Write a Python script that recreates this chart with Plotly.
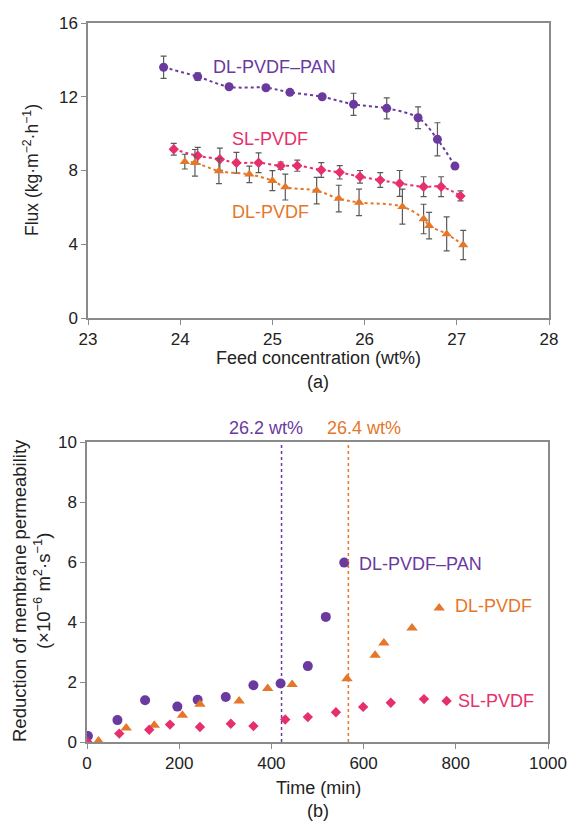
import plotly.graph_objects as go

# ---------------- Data: panel (a) ----------------
pan_conc = [23.82, 24.19, 24.53, 24.93, 25.19, 25.54, 25.88, 26.24, 26.58, 26.79, 26.98]
pan_flux = [13.60, 13.09, 12.54, 12.49, 12.24, 12.00, 11.59, 11.37, 10.86, 9.69, 8.24]
pan_err = [0.60, 0.20, 0.05, 0.10, 0.10, 0.10, 0.60, 0.57, 0.59, 0.90, 0.10]

sl_conc = [23.93, 24.19, 24.43, 24.61, 24.85, 25.09, 25.27, 25.53, 25.73, 25.95, 26.17, 26.38, 26.64, 26.83, 27.04]
sl_flux = [9.15, 8.80, 8.61, 8.42, 8.42, 8.26, 8.26, 8.03, 7.90, 7.66, 7.48, 7.30, 7.12, 7.12, 6.62]
sl_err = [0.32, 0.45, 0.60, 0.56, 0.54, 0.20, 0.30, 0.40, 0.36, 0.34, 0.40, 0.70, 0.54, 0.54, 0.27]

dl_conc = [24.05, 24.16, 24.42, 24.75, 25.00, 25.14, 25.48, 25.72, 25.94, 26.41, 26.64, 26.70, 26.89, 27.07]
dl_flux = [8.48, 8.42, 7.97, 7.79, 7.45, 7.10, 6.91, 6.48, 6.27, 6.04, 5.37, 5.01, 4.56, 3.96]
dl_err = [0.40, 0.72, 0.68, 0.45, 0.54, 0.70, 0.72, 0.72, 0.72, 0.95, 0.80, 0.72, 0.92, 0.79]

# ---------------- Data: panel (b) ----------------
pan_time = [2, 66, 126, 196, 240, 301, 361, 420, 479, 518, 558]
pan_red = [0.20, 0.73, 1.39, 1.18, 1.41, 1.50, 1.89, 1.95, 2.53, 4.17, 5.98]

dl_time = [25, 85, 146, 207, 245, 330, 392, 445, 564, 625, 644, 705, 764]
dl_red = [0.03, 0.47, 0.56, 0.89, 1.26, 1.37, 1.78, 1.92, 2.11, 2.89, 3.30, 3.80, 4.47]

sl_time = [1, 70, 135, 180, 245, 312, 361, 430, 479, 540, 599, 659, 731, 780]
sl_red = [0.0, 0.28, 0.41, 0.58, 0.50, 0.61, 0.53, 0.75, 0.83, 0.99, 1.17, 1.31, 1.43, 1.37]

threshold_times = [422, 567]
threshold_labels = ["26.2 wt%", "26.4 wt%"]

x_ticks_a = [23, 24, 25, 26, 27, 28]
y_ticks_a = [0, 4, 8, 12, 16]
x_ticks_b = [0, 200, 400, 600, 800, 1000]
y_ticks_b = [0, 2, 4, 6, 8, 10]

# ---------------- Styles ----------------
PURPLE = "#6a3a9e"
PINK = "#e6306c"
ORANGE = "#e4772a"
AXIS = "#8a8a8a"
TXT = "#222222"
FONT = "Liberation Sans, Arial, sans-serif"
W, H = 573, 823

def px_x(p):
    return p / W

def px_y(p):
    return 1 - p / H

fig = go.Figure()

errstyle = dict(type="data", visible=True, color="#5a5a5a", thickness=1.2, width=3)

fig.add_trace(go.Scatter(x=pan_conc, y=pan_flux, mode="lines+markers",
                         error_y=dict(array=pan_err, **errstyle),
                         line=dict(color=PURPLE, dash="dot", width=2, shape="spline"),
                         marker=dict(symbol="circle", size=9, color=PURPLE),
                         xaxis="x", yaxis="y", showlegend=False))
fig.add_trace(go.Scatter(x=sl_conc, y=sl_flux, mode="lines+markers",
                         error_y=dict(array=sl_err, **errstyle),
                         line=dict(color=PINK, dash="dot", width=2, shape="spline"),
                         marker=dict(symbol="diamond", size=8, color=PINK),
                         xaxis="x", yaxis="y", showlegend=False))
fig.add_trace(go.Scatter(x=dl_conc, y=dl_flux, mode="lines+markers",
                         error_y=dict(array=dl_err, **errstyle),
                         line=dict(color=ORANGE, dash="dot", width=2, shape="spline"),
                         marker=dict(symbol="triangle-up", size=9, color=ORANGE),
                         xaxis="x", yaxis="y", showlegend=False))

fig.add_trace(go.Scatter(x=pan_time, y=pan_red, mode="markers",
                         marker=dict(symbol="circle", size=10, color=PURPLE),
                         xaxis="x2", yaxis="y2", showlegend=False))
fig.add_trace(go.Scatter(x=dl_time, y=dl_red, mode="markers",
                         marker=dict(symbol="triangle-up", size=10, color=ORANGE),
                         xaxis="x2", yaxis="y2", showlegend=False))
fig.add_trace(go.Scatter(x=sl_time, y=sl_red, mode="markers",
                         marker=dict(symbol="diamond", size=8, color=PINK),
                         xaxis="x2", yaxis="y2", showlegend=False))

axis_common = dict(showline=True, linecolor=AXIS, linewidth=1.5, mirror=True,
                   ticks="outside", ticklen=5, tickcolor=AXIS, tickwidth=1.2,
                   showgrid=False, zeroline=False, automargin=False,
                   tickfont=dict(family=FONT, size=17, color=TXT))

fig.update_layout(
    width=W, height=H,
    margin=dict(l=0, r=0, t=0, b=0, pad=0, autoexpand=False),
    paper_bgcolor="white", plot_bgcolor="white",
    font=dict(family=FONT, color=TXT),
    xaxis=dict(domain=[px_x(88), px_x(549)], anchor="y", range=[23, 28],
               tickvals=x_ticks_a, **axis_common),
    yaxis=dict(domain=[px_y(318), px_y(23)], anchor="x", range=[0, 16],
               tickvals=y_ticks_a, **axis_common),
    xaxis2=dict(domain=[px_x(87), px_x(548)], anchor="y2", range=[0, 1000],
                tickvals=x_ticks_b, **axis_common),
    yaxis2=dict(domain=[px_y(742), px_y(442)], anchor="x2", range=[0, 10],
                tickvals=y_ticks_b, **axis_common),
)

for t, lab, col in zip(threshold_times, threshold_labels, [PURPLE, ORANGE]):
    fig.add_shape(type="line", xref="x2", yref="y2", x0=t, x1=t, y0=0, y1=10,
                  line=dict(color=col, width=1.5, dash="dot"))

def ann(text, x, y, xref="paper", yref="paper", color=TXT, size=17,
        xanchor="center", yanchor="middle", **kw):
    fig.add_annotation(text=text, x=x, y=y, xref=xref, yref=yref, showarrow=False,
                       xanchor=xanchor, yanchor=yanchor,
                       font=dict(family=FONT, size=size, color=color), **kw)

# threshold labels
ann(threshold_labels[0], threshold_times[0] - 34, px_y(428), xref="x2",
    color=PURPLE, size=18)
ann(threshold_labels[1], threshold_times[1] + 34, px_y(428), xref="x2",
    color=ORANGE, size=18)

# series labels panel (a)
ann("DL-PVDF\u2013PAN", 274 / W, px_y(67), color=PURPLE, size=18)
ann("SL-PVDF", 270 / W, px_y(139), color=PINK, size=18)
ann("DL-PVDF", 270 / W, px_y(212), color=ORANGE, size=18)

# series labels panel (b)
ann("DL-PVDF\u2013PAN", 357 / W, px_y(564), color=PURPLE, size=18, xanchor="left")
ann("DL-PVDF", 453 / W, px_y(606), color=ORANGE, size=18, xanchor="left")
ann("SL-PVDF", 456 / W, px_y(701), color=PINK, size=18, xanchor="left")

# axis titles
ann("Feed concentration (wt%)", 318 / W, px_y(358), size=18)
ann("(a)", 318 / W, px_y(382), size=18)
ann("Time (min)", 318 / W, px_y(788), size=18)
ann("(b)", 318 / W, px_y(811), size=18)
ann("Flux (kg\u00b7m<sup>\u22122</sup>\u00b7h<sup>\u22121</sup>)", 31 / W, px_y(170),
    size=17.5, textangle=-90)
ann("Reduction of membrane permeability<br>(\u00d710<sup>\u22126</sup> m<sup>2</sup>\u00b7s<sup>\u22121</sup>)",
    31 / W, px_y(591), size=18.5, textangle=-90)

fig.write_html("out.html", post_script="document.body.style.margin='0';",
               config={"displayModeBar": False})
